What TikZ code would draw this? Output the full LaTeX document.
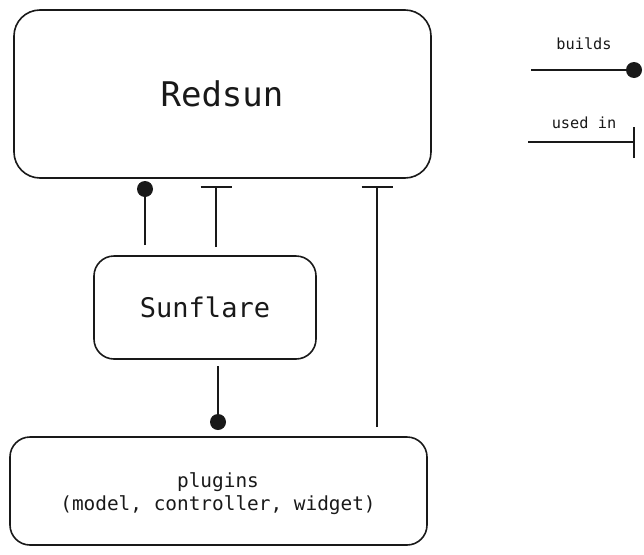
\documentclass[tikz,border=0pt]{standalone}
\usepackage{fontspec}
\setmonofont{DejaVu Sans Mono}
\begin{document}
\begin{tikzpicture}[x=1pt,y=-1pt,
  box/.style={draw=black!90,line width=1.6pt,rounded corners=#1},
  conn/.style={draw=black!90,line width=1.6pt},
  lbl/.style={font=\ttfamily,text=black!90,inner sep=0pt,align=center}]
\useasboundingbox (0,0) rectangle (644,554);
% boxes
\draw[box=26pt] (14,10) rectangle (431,178);
\draw[box=20pt] (94,256) rectangle (316,359);
\draw[box=20pt] (10,437) rectangle (427,545);
\node[lbl,font=\ttfamily\fontsize{34}{40}\selectfont] (redsun) at (222,94) {Redsun};
\node[lbl,font=\ttfamily\fontsize{27}{32}\selectfont] (sunflare) at (205,307) {Sunflare};
\node[lbl,font=\ttfamily\fontsize{19.4}{23}\selectfont] (plugins) at (218,494) {plugins\\(model, controller, widget)};
% connector endpoints
\coordinate (d1) at (145,189);
\coordinate (d1e) at (145,245);
\coordinate (b1) at (216,187);
\coordinate (b1e) at (216,247);
\coordinate (b2) at (377,187);
\coordinate (b2e) at (377,427);
\coordinate (d2) at (218,422);
\coordinate (d2s) at (218,366);
% connectors
\draw[conn] (d1e) -- (d1);
\fill[black!90] (d1) circle (8);
\draw[conn] (b1e) -- (b1);
\draw[conn] ([xshift=-15.5]b1) -- ([xshift=15.5]b1);
\draw[conn] (b2e) -- (b2);
\draw[conn] ([xshift=-15.5]b2) -- ([xshift=15.5]b2);
\draw[conn] (d2s) -- (d2);
\fill[black!90] (d2) circle (8);
% legend
\node[lbl,font=\ttfamily\fontsize{15.3}{18}\selectfont] (lb) at (584,44) {builds};
\coordinate (l1s) at (531,70);
\coordinate (l1e) at (634,70);
\draw[conn] (l1s) -- (l1e);
\fill[black!90] (l1e) circle (8);
\node[lbl,font=\ttfamily\fontsize{15.3}{18}\selectfont] (lu) at (584,123) {used in};
\coordinate (l2s) at (528,142);
\coordinate (l2e) at (634,142);
\draw[conn] (l2s) -- (l2e);
\draw[conn] ([yshift=-16]l2e) -- ([yshift=15]l2e);
\end{tikzpicture}
\end{document}
